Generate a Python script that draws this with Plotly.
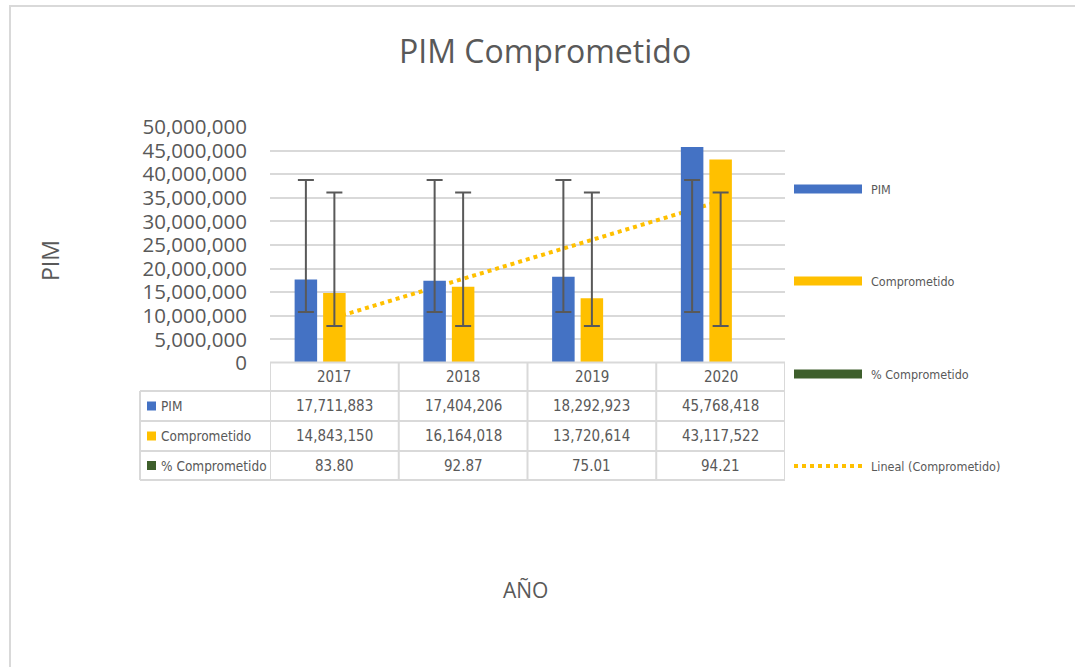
import numpy as np
import plotly.graph_objects as go

# ---------------- data ----------------
years = ["2017", "2018", "2019", "2020"]
pim = [17711883, 17404206, 18292923, 45768418]
comprometido = [14843150, 16164018, 13720614, 43117522]
pct_comprometido = [83.80, 92.87, 75.01, 94.21]
series_names = ["PIM", "Comprometido", "% Comprometido"]
trend_name = "Lineal (Comprometido)"
title_text = "PIM Comprometido"
y_title = "PIM"
x_title = "AÑO"

# ---------------- style ----------------
BLUE = "#4472C4"
GOLD = "#FFC000"
GREEN = "#3E5F2C"
TXT = "#595959"
GRID = "#D9D9D9"
FONT = "Open Sans, Liberation Sans, sans-serif"
NARROW = "Liberation Sans Narrow, DejaVu Sans Condensed, Roboto, sans-serif"

W, H = 1075, 667
L, R, T, B = 270, 785, 127, 363  # plot area in window pixels


def px(x):
    return (x - L) / (R - L)


def py(y):
    return (B - y) / (B - T)


# statistics derived from the data (Excel standard-deviation error bars, linear trendline)
pim_mean, pim_sd = float(np.mean(pim)), float(np.std(pim, ddof=1))
comp_mean, comp_sd = float(np.mean(comprometido)), float(np.std(comprometido, ddof=1))
xi = np.arange(1, len(years) + 1)
slope, intercept = np.polyfit(xi, comprometido, 1)
trend = (slope * xi + intercept).tolist()

fig = go.Figure()

# trendline (behind the bars -> base axes)
fig.add_trace(go.Scatter(
    x=years, y=trend, mode="lines", name=trend_name,
    line=dict(color=GOLD, width=4, dash="4px,4px"),
    xaxis="x", yaxis="y", hoverinfo="skip",
))

# bars on overlay axes
fig.add_trace(go.Bar(x=years, y=pim, name=series_names[0], marker_color=BLUE,
                     marker_line_width=0, offsetgroup="g1", xaxis="x2", yaxis="y2"))
fig.add_trace(go.Bar(x=years, y=comprometido, name=series_names[1], marker_color=GOLD,
                     marker_line_width=0, offsetgroup="g2", xaxis="x2", yaxis="y2"))
fig.add_trace(go.Bar(x=years, y=pct_comprometido, name=series_names[2], marker_color=GREEN,
                     marker_line=dict(color=GRID, width=1),
                     offsetgroup="g3", xaxis="x2", yaxis="y2"))

# error bars (standard deviation around series mean)
invis = dict(color="rgba(255,255,255,0)", opacity=0, line=dict(width=0, color="rgba(0,0,0,0)"))
fig.add_trace(go.Bar(x=years, y=[pim_mean] * len(years), offsetgroup="g1",
                     marker=invis, showlegend=False, hoverinfo="skip",
                     error_y=dict(type="data", array=[pim_sd] * len(years),
                                  color=TXT, thickness=2, width=8),
                     xaxis="x2", yaxis="y2"))
fig.add_trace(go.Bar(x=years, y=[comp_mean] * len(years), offsetgroup="g2",
                     marker=invis, showlegend=False, hoverinfo="skip",
                     error_y=dict(type="data", array=[comp_sd] * len(years),
                                  color=TXT, thickness=2, width=8),
                     xaxis="x2", yaxis="y2"))

xcommon = dict(type="category", range=[-0.5, len(years) - 0.5], showticklabels=False,
               showgrid=False, zeroline=False, showline=False, ticks="", fixedrange=True)
fig.update_layout(
    width=W, height=H,
    margin=dict(l=L, r=W - R, t=T, b=H - B, pad=0),
    paper_bgcolor="white", plot_bgcolor="white",
    showlegend=False,
    barmode="group", bargap=0.336, bargroupgap=0.21,
    xaxis=dict(**xcommon),
    xaxis2=dict(**xcommon, overlaying="x", visible=False),
    yaxis=dict(range=[0, 50000000], dtick=5000000, tickformat=",d",
               tickfont=dict(family=FONT, size=20.5, color=TXT),
               showgrid=True, gridcolor=GRID, gridwidth=1.5,
               zeroline=False, showline=False, ticks="", ticklabelstandoff=22,
               fixedrange=True),
    yaxis2=dict(range=[0, 50000000], overlaying="y", visible=False, showgrid=False,
                zeroline=False, fixedrange=True),
)

shapes = []
annots = []

# outer chart border
shapes.append(dict(type="rect", xref="paper", yref="paper",
                   x0=px(10), x1=px(1100), y0=py(6), y1=py(720),
                   line=dict(color=GRID, width=2), fillcolor="rgba(0,0,0,0)", layer="below"))

# titles
annots.append(dict(text=title_text, xref="paper", yref="paper", x=px(545), y=py(50),
                   showarrow=False, xanchor="center", yanchor="middle",
                   font=dict(family=FONT, size=32, color=TXT)))
annots.append(dict(text=y_title, xref="paper", yref="paper", x=px(50), y=py(261),
                   showarrow=False, textangle=-90, xanchor="center", yanchor="middle",
                   font=dict(family=FONT, size=23, color=TXT)))
annots.append(dict(text=x_title, xref="paper", yref="paper", x=px(525), y=py(590),
                   showarrow=False, xanchor="center", yanchor="middle",
                   font=dict(family=FONT, size=21, color=TXT)))

# ---------------- data table ----------------
tbl_left = 140
hdr_top = 362.5
row_lines = [391, 421, 451, 480]
n = len(years)
tline = dict(color=GRID, width=2)
# header top line (category columns only)
shapes.append(dict(type="line", xref="x", yref="paper", x0=-0.5, x1=n - 0.5,
                   y0=py(hdr_top), y1=py(hdr_top), line=tline))
for yl in row_lines:
    shapes.append(dict(type="line", xref="paper", yref="paper", x0=px(tbl_left), x1=1,
                       y0=py(yl), y1=py(yl), line=tline))
shapes.append(dict(type="line", xref="paper", yref="paper", x0=px(tbl_left), x1=px(tbl_left),
                   y0=py(row_lines[0]), y1=py(row_lines[-1]), line=tline))
for i in range(n + 1):
    shapes.append(dict(type="line", xref="x", yref="paper", x0=i - 0.5, x1=i - 0.5,
                       y0=py(hdr_top), y1=py(row_lines[-1]), line=tline))


def colx(i):
    # paper x of the centre of category column i
    return (i + 0.5) / n


tfont = dict(family=NARROW, size=15, color=TXT)
lblfont = dict(family=NARROW, size=13.5, color=TXT)
hdr_c = (hdr_top + row_lines[0]) / 2
for i, yr in enumerate(years):
    annots.append(dict(text=yr, xref="paper", yref="paper", x=colx(i), y=py(hdr_c),
                       showarrow=False, xanchor="center", yanchor="middle", font=tfont))

rows = [
    (series_names[0], BLUE, [f"{v:,}" for v in pim]),
    (series_names[1], GOLD, [f"{v:,}" for v in comprometido]),
    (series_names[2], GREEN, [f"{v:.2f}" for v in pct_comprometido]),
]
for r, (name, col, vals) in enumerate(rows):
    yc = (row_lines[r] + row_lines[r + 1]) / 2
    shapes.append(dict(type="rect", xref="paper", yref="paper",
                       x0=px(147), x1=px(156), y0=py(yc + 4.5), y1=py(yc - 4.5),
                       fillcolor=col, line=dict(width=0)))
    annots.append(dict(text=name, xref="paper", yref="paper", x=px(159), y=py(yc),
                       showarrow=False, xanchor="left", yanchor="middle", font=lblfont))
    for i, v in enumerate(vals):
        annots.append(dict(text=v, xref="paper", yref="paper", x=colx(i), y=py(yc),
                           showarrow=False, xanchor="center", yanchor="middle", font=tfont))

# ---------------- legend ----------------
lfont = dict(family=NARROW, size=12.5, color=TXT)
leg_items = [(series_names[0], BLUE, 189), (series_names[1], GOLD, 281),
             (series_names[2], GREEN, 374)]
for name, col, yc in leg_items:
    shapes.append(dict(type="rect", xref="paper", yref="paper",
                       x0=px(794), x1=px(862), y0=py(yc + 4.5), y1=py(yc - 4.5),
                       fillcolor=col, line=dict(width=0)))
    annots.append(dict(text=name, xref="paper", yref="paper", x=px(869), y=py(yc),
                       showarrow=False, xanchor="left", yanchor="middle", font=lfont))
shapes.append(dict(type="line", xref="paper", yref="paper", x0=px(794), x1=px(862),
                   y0=py(466), y1=py(466), line=dict(color=GOLD, width=4, dash="4px,4px")))
annots.append(dict(text=trend_name, xref="paper", yref="paper", x=px(869), y=py(466),
                   showarrow=False, xanchor="left", yanchor="middle", font=lfont))

fig.update_layout(shapes=shapes, annotations=annots)
fig.write_html("out.html", config={"displayModeBar": False},
               post_script="document.body.style.margin='0';document.body.style.overflow='hidden';")
